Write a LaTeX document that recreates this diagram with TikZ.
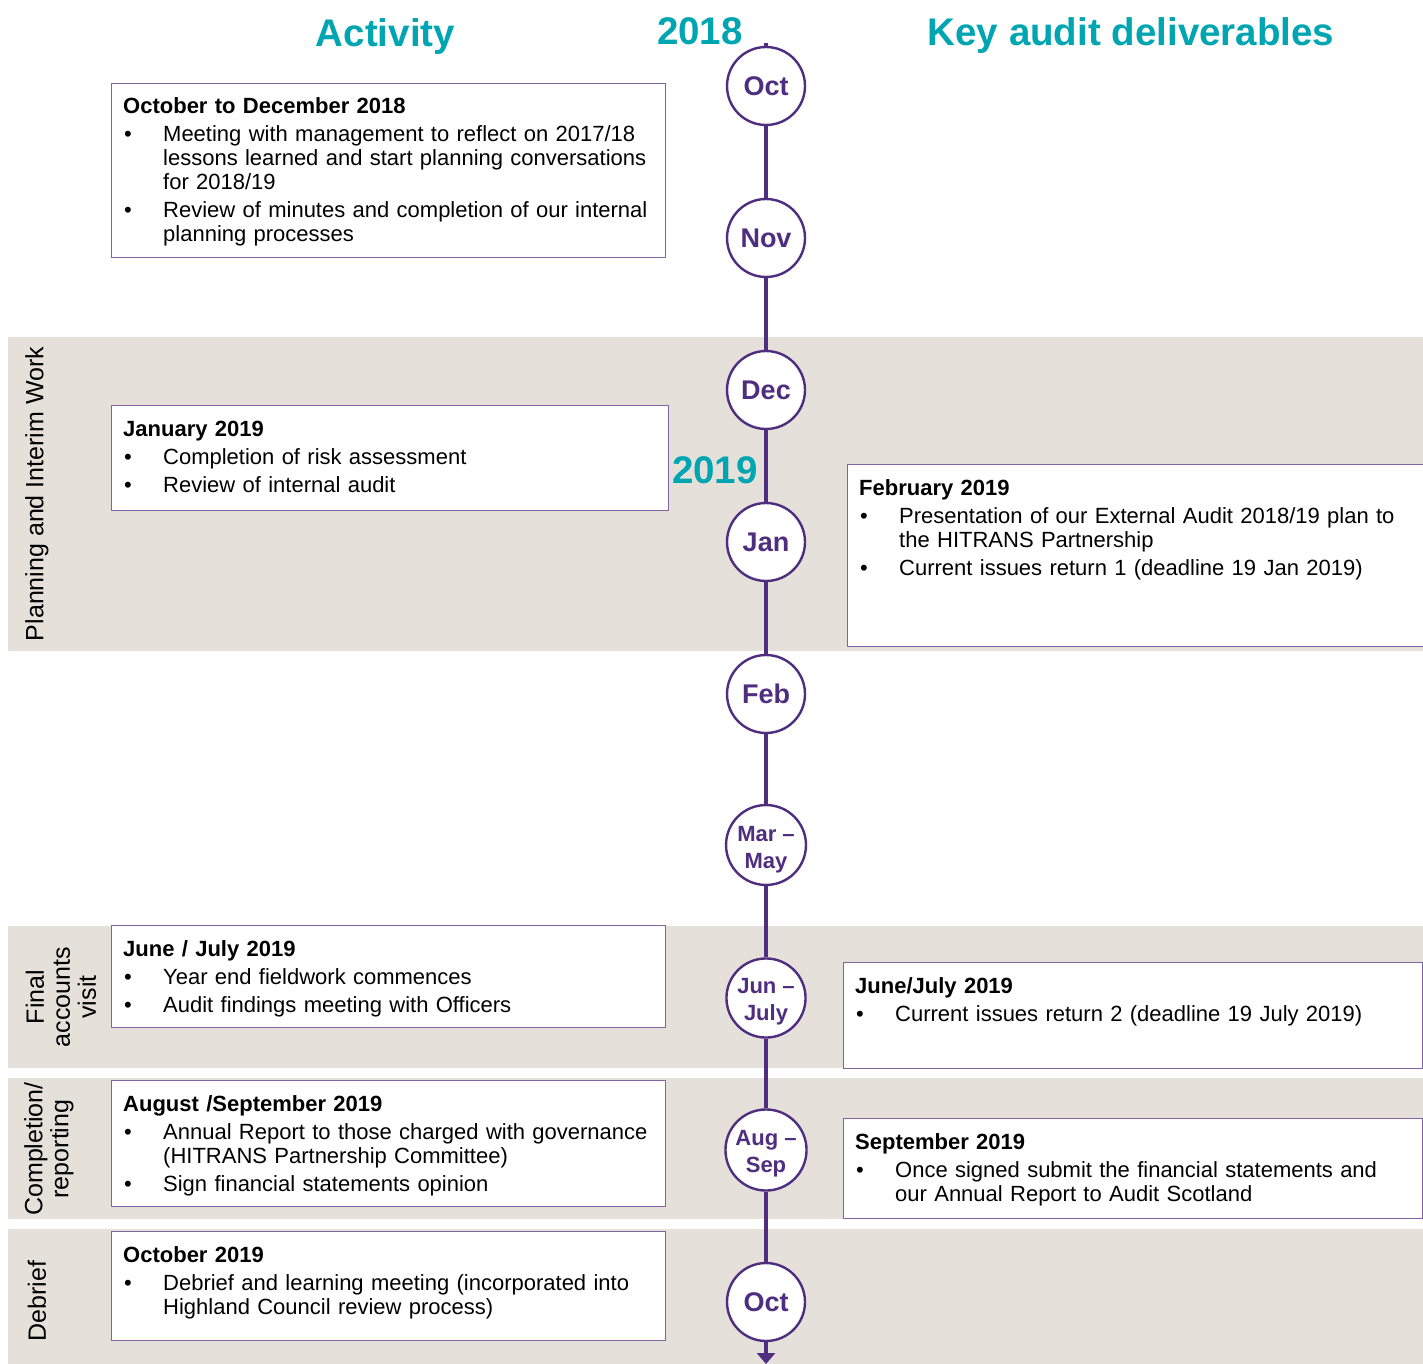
\documentclass[tikz,border=0pt]{standalone}
\usepackage{fontspec}
\setmainfont{Liberation Sans}
\usetikzlibrary{arrows.meta}
\definecolor{gtteal}{RGB}{0,165,178}
\definecolor{gtpurple}{RGB}{79,45,127}
\definecolor{boxc}{RGB}{128,100,162}
\definecolor{bandc}{RGB}{230,224,218}
\newcommand{\bul}{\par\vspace{4pt}\hangindent=40pt\hangafter=1\noindent\hbox to 40pt{\hspace{1pt}\textbullet\hfil}}
\newcommand{\btitle}[1]{\noindent\rule{0pt}{17pt}\textbf{#1}}
\begin{document}
\begin{tikzpicture}[x=1pt,y=-1pt,
  band/.style={fill=bandc},
  box/.style={draw=boxc, fill=white, line width=1.2pt, rectangle, inner sep=0pt, anchor=north west},
  txt/.style={inner sep=0pt, text width=570pt, align=left, anchor=north west, font=\fontsize{22}{24}\selectfont},
  month/.style={circle, draw=gtpurple, line width=2.4pt, fill=white, minimum size=78pt, inner sep=0pt, text=gtpurple, font=\bfseries\fontsize{27}{27}\selectfont},
  monthtwo/.style={month, align=center, font=\bfseries\fontsize{22}{27}\selectfont},
  tl/.style={draw=gtpurple, line width=4pt},
  hdr/.style={text=gtteal, font=\bfseries\fontsize{38.5}{38.5}\selectfont, inner sep=0pt, anchor=base},
  side/.style={rotate=90, align=center, inner sep=0pt, font=\fontsize{25}{26}\selectfont}
]
\useasboundingbox (0,0) rectangle (1423,1364);
\fill[white] (0,0) rectangle (1423,1364);

% background bands
\fill[band] (8,337) rectangle (1423,651);
\fill[band] (8,926) rectangle (1423,1068);
\fill[band] (8,1078) rectangle (1423,1219);
\fill[band] (8,1229) rectangle (1423,1364);

% side labels
\node[side] (s1) at (37,494) {Planning and Interim Work};
\node[side] (s2) at (61,997) {Final\\accounts\\visit};
\node[side] (s3) at (49,1149) {Completion/\\reporting};
\node[side] (s4) at (37,1301) {Debrief};

% headers
\node[hdr] (hact) at (385.5,46.5) {Activity};
\node[hdr] (h2018) at (700,44.5) {2018};
\node[hdr] (hkey) at (1131,45.5) {Key audit deliverables};
\node[hdr] (h2019) at (715,483) {2019};

% boxes
\node[box, minimum width=554pt, minimum height=174pt] (b1) at (111,83) {};
\node[txt] (b1t) at ([shift={(12,13.8)}]b1.north west) {\btitle{October to December 2018}
\bul Meeting with management to reflect on 2017/18\newline lessons learned and start planning conversations\newline for 2018/19
\bul Review of minutes and completion of our internal\newline planning processes\par};

\node[box, minimum width=557pt, minimum height=105pt] (b2) at (111,405) {};
\node[txt] (b2t) at ([shift={(12,13.8)}]b2.north west) {\btitle{January 2019}
\bul Completion of risk assessment
\bul Review of internal audit\par};

\node[box, minimum width=576pt, minimum height=182pt] (b3) at (847,464) {};
\node[txt] (b3t) at ([shift={(12,13.8)}]b3.north west) {\btitle{February 2019}
\bul Presentation of our External Audit 2018/19 plan to\newline the HITRANS Partnership
\bul Current issues return 1 (deadline 19 Jan 2019)\par};

\node[box, minimum width=554pt, minimum height=102pt] (b4) at (111,925) {};
\node[txt] (b4t) at ([shift={(12,13.8)}]b4.north west) {\btitle{June / July 2019}
\bul Year end fieldwork commences
\bul Audit findings meeting with Officers\par};

\node[box, minimum width=579pt, minimum height=106pt] (b5) at (843,962) {};
\node[txt] (b5t) at ([shift={(12,14.3)}]b5.north west) {\btitle{June/July 2019}
\bul Current issues return 2 (deadline 19 July 2019)\par};

\node[box, minimum width=554pt, minimum height=126pt] (b6) at (111,1080) {};
\node[txt] (b6t) at ([shift={(12,14.3)}]b6.north west) {\btitle{August /September 2019}
\bul Annual Report to those charged with governance\newline (HITRANS Partnership Committee)
\bul Sign financial statements opinion\par};

\node[box, minimum width=579pt, minimum height=100pt] (b7) at (843,1118) {};
\node[txt] (b7t) at ([shift={(12,14.3)}]b7.north west) {\btitle{September 2019}
\bul Once signed submit the financial statements and\newline our Annual Report to Audit Scotland\par};

\node[box, minimum width=554pt, minimum height=109pt] (b8) at (111,1231) {};
\node[txt] (b8t) at ([shift={(12,14.3)}]b8.north west) {\btitle{October 2019}
\bul Debrief and learning meeting (incorporated into\newline Highland Council review process)\par};

% timeline circles
\node[month] (m1) at (766,86) {Oct};
\node[month] (m2) at (766,238) {Nov};
\node[month] (m3) at (766,390) {Dec};
\node[month] (m4) at (766,542) {Jan};
\node[month] (m5) at (766,694) {Feb};
\node[monthtwo] (m6) at (766,845) {\rule{0pt}{24pt}Mar –\\May};
\node[monthtwo] (m7) at (766,998) {\rule{0pt}{23pt}Jun –\\July};
\node[monthtwo] (m8) at (766,1150) {\rule{0pt}{22pt}Aug –\\Sep};
\node[month] (m9) at (766,1302) {Oct};

% timeline connectors
\coordinate (tltop) at (766,43);
\coordinate (tlend) at (766,1364);
\draw[tl] (tltop) -- (m1.north);
\draw[tl] (m1) -- (m2);
\draw[tl] (m2) -- (m3);
\draw[tl] (m3) -- (m4);
\draw[tl] (m4) -- (m5);
\draw[tl] (m5) -- (m6);
\draw[tl] (m6) -- (m7);
\draw[tl] (m7) -- (m8);
\draw[tl] (m8) -- (m9);
\draw[tl, -{Triangle[width=18pt,length=11pt]}] (m9) -- (tlend);
\end{tikzpicture}
\end{document}
